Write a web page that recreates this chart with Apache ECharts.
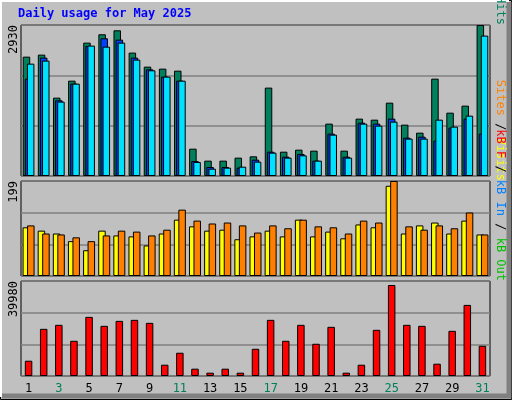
<!DOCTYPE html>
<html><head><meta charset="utf-8">
<script src="https://cdn.jsdelivr.net/npm/echarts@6/dist/echarts.min.js"></script>
<style>html,body{margin:0;padding:0;background:#c0c0c0}#c{width:512px;height:400px}</style>
</head><body><div id="c"></div>
<script>
const days = ['1','2','3','4','5','6','7','8','9','10','11','12','13','14','15','16','17','18','19','20','21','22','23','24','25','26','27','28','29','30','31'];
const weekends = ['3','4','10','11','17','18','24','25','31'];
const hits  = [2316,2355,1520,1850,2588,2750,2827,2394,2122,2083,2044,530,298,298,356,382,1715,472,511,492,1016,492,1113,1093,1423,996,841,1889,1229,1365,2930];
const files = [1889,2297,1469,1792,2523,2672,2646,2297,2070,1928,1850,291,175,175,162,317,472,375,427,298,822,375,1035,1016,1113,744,763,686,938,1113,822];
const pages = [2180,2239,1443,1792,2530,2510,2588,2258,2051,1928,1850,272,142,162,181,278,453,356,401,298,802,356,1016,977,1055,725,725,1093,958,1171,2724];
const visits = [102,95,89,73,54,95,85,83,64,89,118,104,95,97,77,83,95,83,118,83,93,79,108,102,189,89,106,112,89,116,87];
const sites  = [106,89,87,81,73,85,95,93,85,97,139,116,110,112,106,91,106,100,118,104,102,89,116,112,199,104,97,106,100,133,87];
const kbytes = [6430,19850,21530,14820,24880,21110,23200,23630,22370,4750,9790,3080,1400,3080,1400,11460,23630,14820,21530,13560,20690,1400,4750,19430,38300,21530,21110,5170,19010,29920,12720];
const maxLabels = ['2930','199','39980'];
const maxVals = [2930,199,39980];

const chart = echarts.init(document.getElementById('c'));
const tops = [25,181,281], hs = [151,95,95];
const grids = tops.map((t,i)=>({left:21,right:22,top:t,height:hs[i],show:true,backgroundColor:'#c0c0c0',borderColor:'#000',borderWidth:1}));
const xAxes = grids.map((g,i)=>({gridIndex:i,type:'category',data:days,axisLine:{show:false},axisTick:{show:false},
  axisLabel:{show:i===2,fontFamily:'DejaVu Sans Mono',fontSize:12,margin:7,color:(v)=>weekends.includes(v)?'#00805a':'#000'}}));
const yAxes = maxVals.map((m,i)=>({gridIndex:i,type:'value',min:0,max:m,interval:m/3,axisLabel:{show:false},axisLine:{show:false},axisTick:{show:false},
  splitLine:{lineStyle:{color:'#808080',width:1.5}}}));
const bs = (c)=>({borderColor:'#000',borderWidth:1,color:c});
const series = [
 {type:'bar',xAxisIndex:0,yAxisIndex:0,data:hits,barWidth:7.5,barGap:'-72%',itemStyle:bs('#00805c'),silent:true},
 {type:'bar',xAxisIndex:0,yAxisIndex:0,data:files,barWidth:7.5,barGap:'-72%',itemStyle:bs('#0040ff'),silent:true},
 {type:'bar',xAxisIndex:0,yAxisIndex:0,data:pages,barWidth:7.5,barGap:'-72%',itemStyle:bs('#00e0ff'),silent:true},
 {type:'bar',xAxisIndex:1,yAxisIndex:1,data:visits,barWidth:7.5,barGap:'-40%',itemStyle:bs('#ffff00'),silent:true},
 {type:'bar',xAxisIndex:1,yAxisIndex:1,data:sites,barWidth:7.5,barGap:'-40%',itemStyle:bs('#ff8000'),silent:true},
 {type:'bar',xAxisIndex:2,yAxisIndex:2,data:kbytes,barWidth:7.5,itemStyle:bs('#ff0000'),silent:true}
];
const vt = (x,y,parts)=>({type:'text',x:x,y:y,rotation:Math.PI/2,style:{rich:{a:{}},text:'',fontFamily:'DejaVu Sans Mono',fontSize:12}});
function vlabel(x,yTop,parts){
  // parts: [text,color] drawn top-to-bottom (rotated -90 so reading bottom-up means reversed)
  const els=[]; let y=yTop;
  return {type:'text',x:x,y:yTop,rotation:-Math.PI/2,style:{text:parts.map((p,i)=>'{s'+i+'|'+p[0]+'}').join(''),
    rich:Object.fromEntries(parts.map((p,i)=>['s'+i,{fill:p[1],fontFamily:'DejaVu Sans Mono',fontSize:12}])),align:'right',verticalAlign:'middle'}};
}
const graphic = [
 {type:'rect',shape:{x:0.5,y:0.5,width:511,height:399},style:{fill:'none',stroke:'#000',lineWidth:1},z:-10},
 {type:'polyline',shape:{points:[[1,397],[1,1],[509,1]]},style:{stroke:'#fff',lineWidth:2,fill:'none'}},
 {type:'polyline',shape:{points:[[2,396],[509,396],[509,2]]},style:{stroke:'#808080',lineWidth:5,fill:'none'}},
 {type:'text',x:18,y:8,style:{text:'Daily usage for May 2025',fill:'#0000ff',fontFamily:'DejaVu Sans Mono',fontSize:12,fontWeight:'bold'}},
 {type:'text',x:8,y:25,rotation:Math.PI/2,style:{text:maxLabels[0],fill:'#000',fontFamily:'DejaVu Sans Mono',fontSize:12,align:'right',verticalAlign:'top'}},
 {type:'text',x:8,y:181,rotation:Math.PI/2,style:{text:maxLabels[1],fill:'#000',fontFamily:'DejaVu Sans Mono',fontSize:12,align:'right',verticalAlign:'top'}},
 {type:'text',x:8,y:281,rotation:Math.PI/2,style:{text:maxLabels[2],fill:'#000',fontFamily:'DejaVu Sans Mono',fontSize:12,align:'right',verticalAlign:'top'}},
 vlabel(500,25,[['Pages','#00e0ff'],[' / ','#000'],['Files','#0080ff'],[' / ','#000'],['Hits','#00805c']]),
 vlabel(500,181,[['Sites','#ff8000'],[' / ','#000'],['Visits','#ffff00']]),
 vlabel(500,281,[['kB F','#ff0000'],[' / ','#000'],['kB In','#0080ff'],[' / ','#000'],['kB Out','#00c000']])
];
// add "Out" portion for middle? reference shows "kB Out Sites / Visits" layout crossing; keep per-panel labels
chart.setOption({animation:false,backgroundColor:'#c0c0c0',grid:grids,xAxis:xAxes,yAxis:yAxes,series:series,graphic:graphic});
</script></body></html>
